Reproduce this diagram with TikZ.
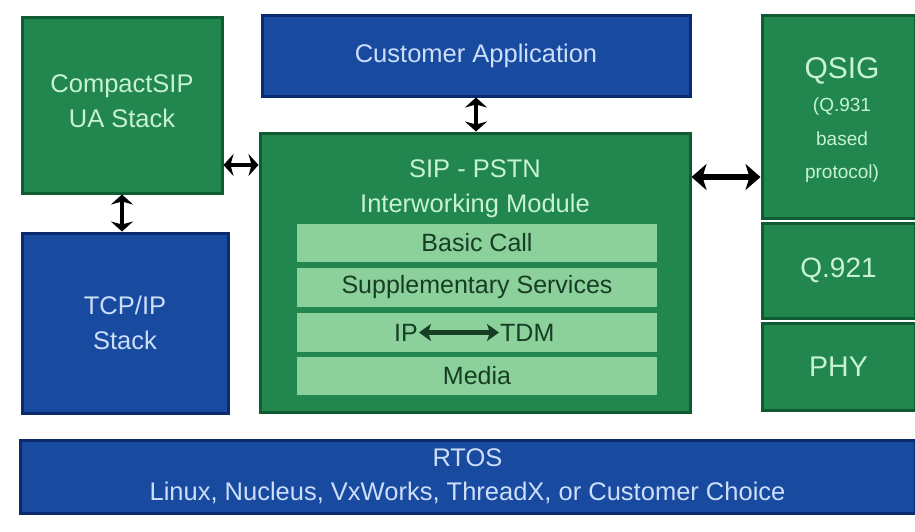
\documentclass[tikz,border=0pt]{standalone}
\usepackage{fontspec}
\setmainfont{Liberation Sans}
\usetikzlibrary{arrows.meta}
\definecolor{gmain}{RGB}{33,135,78}
\definecolor{gdark}{RGB}{16,92,50}
\definecolor{gtxt}{RGB}{200,242,212}
\definecolor{bmain}{RGB}{24,74,160}
\definecolor{bdark}{RGB}{12,42,110}
\definecolor{btxt}{RGB}{205,222,250}
\definecolor{lbar}{RGB}{140,208,155}
\definecolor{lbartxt}{RGB}{22,62,36}
\begin{document}
\begin{tikzpicture}[x=1pt,y=-1pt,
 box/.style={rectangle, inner sep=0pt, line width=3pt, align=center, font=\fontsize{25.5}{35}\selectfont},
 gbox/.style={box, fill=gmain, draw=gdark, text=gtxt},
 bbox/.style={box, fill=bmain, draw=bdark, text=btxt},
 bar/.style={rectangle, inner sep=0pt, fill=lbar, minimum width=360pt, text=lbartxt, font=\fontsize{25}{28}\selectfont},
 bartext/.style={inner sep=1pt, text=lbartxt, font=\fontsize{25}{28}\selectfont},
 arr/.style={line width=4.5pt, {Stealth[length=10pt,width=22pt,inset=3pt]}-{Stealth[length=10pt,width=22pt,inset=3pt]}},
 bigarr/.style={line width=6pt, {Stealth[length=15pt,width=26pt,inset=4pt]}-{Stealth[length=15pt,width=26pt,inset=4pt]}},
 iarr/.style={line width=4.5pt, draw=lbartxt, {Stealth[length=12pt,width=17pt,inset=3pt]}-{Stealth[length=12pt,width=17pt,inset=3pt]}},
]
\useasboundingbox (0,0) rectangle (915,531);
\fill[white] (0,0) rectangle (915,531);

% left column
\node[gbox, minimum width=200pt, minimum height=176pt] (cs) at (122,105) {};
\node[text=gtxt, align=center, font=\fontsize{25.5}{35}\selectfont] (cstext) at (122,101) {CompactSIP\\UA Stack};
\node[bbox, minimum width=206pt, minimum height=180pt] (tcp) at (125,323) {TCP/IP\\Stack};

% middle column
\node[bbox, minimum width=428pt, minimum height=81pt] (ca) at (476,55.5) {Customer Application};
\node[gbox, minimum width=430pt, minimum height=279pt] (sip) at (475,272.5) {};
\node[text=gtxt, align=center, font=\fontsize{25.5}{35}\selectfont] (siptitle) at (475,189) {SIP - PSTN\\Interworking Module};
\node[bar, minimum height=38pt] (bc) at (477,243) {Basic Call};
\node[bar, minimum height=39pt] (ss) at (477,287.5) {Supplementary Services};
\node[bar, minimum height=39pt] (ipt) at (477,332.5) {};
\node[bartext, anchor=east] (ip) at (419,332.5) {IP};
\node[bartext, anchor=west] (tdm) at (499,332.5) {TDM};
\node[bar, minimum height=38pt] (med) at (477,376) {Media};

% right column
\node[gbox, minimum width=153pt, minimum height=203pt] (qsig) at (838.5,116.5) {};
\node[text=gtxt, align=center, font=\fontsize{19}{33.5}\selectfont] (qsigtext) at (842,120)
  {{\fontsize{30}{33}\selectfont QSIG}\\(Q.931\\based\\protocol)};
\node[gbox, minimum width=153pt, minimum height=95pt, font=\fontsize{28}{30}\selectfont] (q921) at (838.5,270.5) {Q.921};
\node[gbox, minimum width=153pt, minimum height=87pt, font=\fontsize{28.5}{30}\selectfont] (phy) at (838.5,366.5) {PHY};

% bottom
\node[bbox, minimum width=895pt, minimum height=73pt, font=\fontsize{25.5}{34}\selectfont] (rtos) at (467.5,476.5) {RTOS\\Linux, Nucleus, VxWorks, ThreadX, or Customer Choice};

% connectors
\coordinate (ya) at (0,165);
\coordinate (yb) at (0,177);
\draw[arr] (cs.east |- ya) -- (sip.west |- ya);
\draw[arr] (cs.south) -- (cs.south |- tcp.north);
\draw[arr] (ca.south) -- (ca.south |- sip.north);
\draw[bigarr] (sip.east |- yb) -- (qsig.west |- yb);
\draw[iarr] (ip) -- (tdm);
\end{tikzpicture}
\end{document}
